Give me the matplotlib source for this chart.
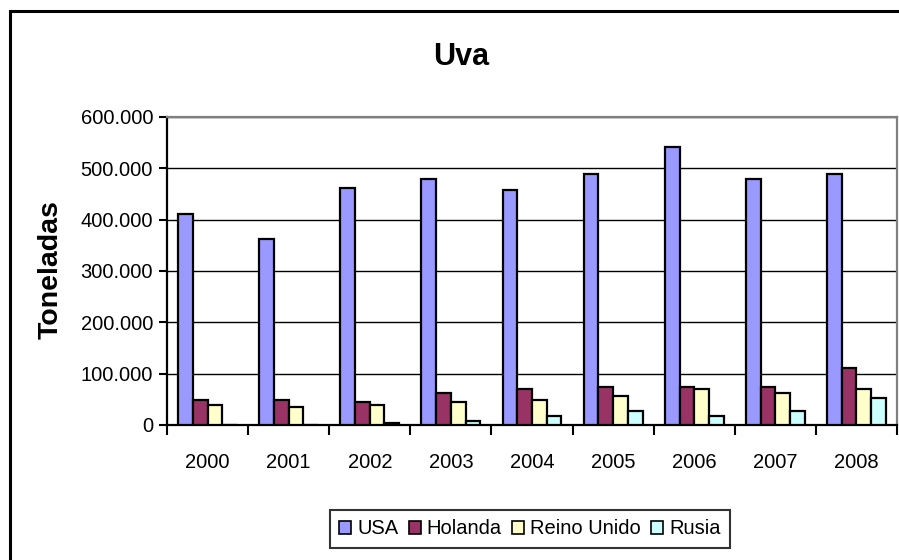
import matplotlib
matplotlib.use("Agg")
import matplotlib.pyplot as plt
import numpy as np
from matplotlib.patches import Rectangle, Patch
from matplotlib.ticker import FuncFormatter, FixedLocator

plt.rcParams['font.family'] = ['Liberation Sans', 'DejaVu Sans']

years = ['2000', '2001', '2002', '2003', '2004', '2005', '2006', '2007', '2008']
series_names = ['USA', 'Holanda', 'Reino Unido', 'Rusia']
usa = [412000, 363000, 461000, 480000, 457000, 488000, 542000, 480000, 488000]
holanda = [48000, 48000, 44000, 62000, 70000, 75000, 75000, 75000, 111000]
reino_unido = [39000, 35000, 39000, 44000, 48000, 57000, 70000, 62000, 70000]
rusia = [0, 0, 4000, 8000, 17000, 27000, 17000, 27000, 53000]
colors = ['#9999FF', '#993366', '#FFFFCC', '#CCFFFF']
title = 'Uva'
ylabel = 'Toneladas'

data = [usa, holanda, reino_unido, rusia]

fig = plt.figure(figsize=(8.99, 5.60), dpi=100)
ax = fig.add_axes([167/899, 1-425/560, 730/899, 308/560])

x = np.arange(len(years))
w = 0.1815
offsets = [-1.5, -0.5, 0.5, 1.5]
for vals, off, c in zip(data, offsets, colors):
    ax.bar(x + off*w, vals, width=w, color=c, edgecolor='black', linewidth=1.6, zorder=3)

ax.set_xlim(-0.5, len(years) - 0.5)
ax.set_ylim(0, 600000)
ax.set_yticks(np.arange(0, 600001, 100000))
ax.yaxis.set_major_formatter(FuncFormatter(lambda v, p: '0' if v == 0 else f'{int(v):,}'.replace(',', '.')))
ax.grid(axis='y', color='black', linewidth=1.0, zorder=0)
ax.set_axisbelow(True)

ax.set_xticks(x)
ax.set_xticklabels(years)
ax.xaxis.set_minor_locator(FixedLocator(np.arange(-0.5, len(years), 1.0)))
ax.tick_params(axis='x', which='major', length=0, pad=20, labelsize=14.5)
ax.tick_params(axis='x', which='minor', length=7, width=1.5, direction='out', color='black')
ax.tick_params(axis='y', length=6, width=1.5, direction='out', labelsize=14.5, pad=4)

for s in ['left', 'bottom']:
    ax.spines[s].set_color('black')
    ax.spines[s].set_linewidth(1.6)
for s in ['top', 'right']:
    ax.spines[s].set_color('#808080')
    ax.spines[s].set_linewidth(1.6)

fig.text(461/899, 1-57/560, title, ha='center', va='center', fontsize=22, fontweight='bold')
fig.text(51/899, 1-270/560, ylabel, ha='center', va='center', rotation=90, fontsize=20.5, fontweight='bold')

handles = [Patch(facecolor=c, edgecolor='black', linewidth=1.2) for c in colors]
leg = fig.legend(handles, series_names, loc='center', bbox_to_anchor=(530/899, 1-529/560),
                 ncol=4, fontsize=14.5, frameon=True, fancybox=False, edgecolor='black',
                 handlelength=0.6, handleheight=0.6, handletextpad=0.3, columnspacing=0.5,
                 borderpad=0.45, borderaxespad=0)
leg.get_frame().set_linewidth(1.5)

border = Rectangle((10/899, -0.1), 1.0, 1 - 11/560 + 0.1, transform=fig.transFigure,
                   fill=False, edgecolor='black', linewidth=2.2, clip_on=False)
fig.patches.append(border)

fig.savefig('out.png', dpi=100, facecolor='white')
